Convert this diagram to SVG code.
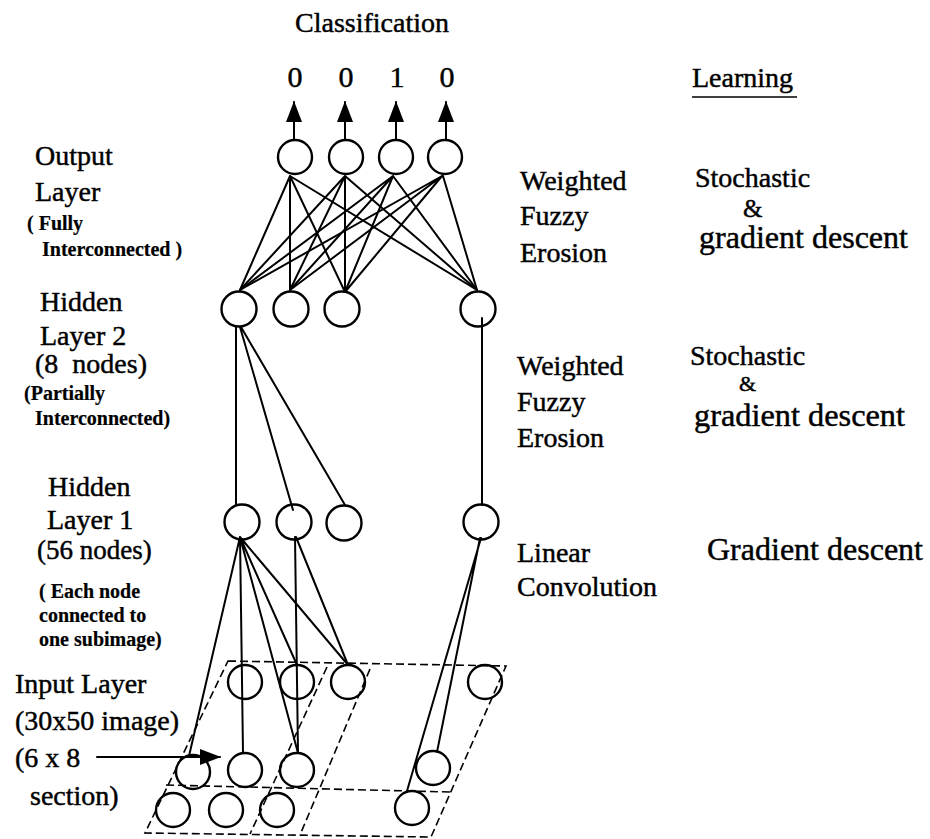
<svg xmlns="http://www.w3.org/2000/svg" width="930" height="839" viewBox="0 0 930 839">
  <defs>
    <style>
      .t { font-family: "Liberation Serif", "Times New Roman", serif; font-size: 28px; fill: #000; stroke: #000; stroke-width: 0.45; }
      .b { font-weight: bold; font-size: 20px; stroke-width: 0.2; }
      .mid { text-anchor: middle; }
      .node { fill: none; stroke: #000; stroke-width: 2.4; }
      .link { fill: none; stroke: #000; stroke-width: 2; stroke-linecap: round; }
      .grid { fill: none; stroke: #000; stroke-width: 1.6; stroke-dasharray: 8 4; }
    </style>
    <marker id="arrow" markerUnits="userSpaceOnUse" markerWidth="22" markerHeight="16" refX="20" refY="8" orient="auto">
      <path d="M0,0 L21,8 L0,16 Z" fill="#000"/>
    </marker>
  </defs>
  <rect width="930" height="839" fill="#fff"/>

  <!-- Titles and learning-rule column -->
  <g id="titles">
    <text class="t" x="295" y="32">Classification</text>
    <text class="t mid" x="295" y="87" style="font-size:30px">0</text>
    <text class="t mid" x="346" y="87" style="font-size:30px">0</text>
    <text class="t mid" x="397" y="87" style="font-size:30px">1</text>
    <text class="t mid" x="447" y="87" style="font-size:30px">0</text>
    <text class="t" x="692" y="87">Learning</text>
    <line x1="692" y1="97" x2="797" y2="97" stroke="#000" stroke-width="1.6"/>
  </g>

  <g id="rule-output">
    <text class="t" x="520" y="190">Weighted</text>
    <text class="t" x="520" y="225">Fuzzy</text>
    <text class="t" x="520" y="262">Erosion</text>
    <text class="t" x="695" y="187">Stochastic</text>
    <text class="t" x="743" y="217" style="font-size:25px">&amp;</text>
    <text class="t" x="699" y="248" style="font-size:31px" textLength="209" lengthAdjust="spacingAndGlyphs">gradient descent</text>
  </g>

  <g id="rule-hidden2">
    <text class="t" x="517" y="375">Weighted</text>
    <text class="t" x="517" y="411">Fuzzy</text>
    <text class="t" x="517" y="447">Erosion</text>
    <text class="t" x="690" y="365">Stochastic</text>
    <text class="t" x="739" y="391" style="font-size:22px">&amp;</text>
    <text class="t" x="694" y="426" style="font-size:31px" textLength="211" lengthAdjust="spacingAndGlyphs">gradient descent</text>
  </g>

  <g id="rule-hidden1">
    <text class="t" x="517" y="562">Linear</text>
    <text class="t" x="517" y="596">Convolution</text>
    <text class="t" x="707" y="560" style="font-size:31px" textLength="216" lengthAdjust="spacingAndGlyphs">Gradient descent</text>
  </g>

  <!-- Layer captions -->
  <g id="label-output">
    <text class="t" x="35" y="165">Output</text>
    <text class="t" x="35" y="201">Layer</text>
    <text class="t b" x="27" y="230">( Fully</text>
    <text class="t b" x="42" y="256">Interconnected )</text>
  </g>
  <g id="label-hidden2">
    <text class="t" x="40" y="311">Hidden</text>
    <text class="t" x="40" y="345">Layer 2</text>
    <text class="t" x="35" y="373" xml:space="preserve">(8  nodes)</text>
    <text class="t b" x="24" y="400">(Partially</text>
    <text class="t b" x="35" y="425">Interconnected)</text>
  </g>
  <g id="label-hidden1">
    <text class="t" x="48" y="496">Hidden</text>
    <text class="t" x="47" y="529">Layer 1</text>
    <text class="t" x="37" y="559" style="font-size:27px">(56 nodes)</text>
    <text class="t b" x="39" y="598">( Each node</text>
    <text class="t b" x="39" y="622">connected to</text>
    <text class="t b" x="39" y="646">one subimage)</text>
  </g>
  <g id="label-input">
    <text class="t" x="15" y="693">Input Layer</text>
    <text class="t" x="15" y="730">(30x50 image)</text>
    <text class="t" x="15" y="767">(6 x 8</text>
    <text class="t" x="30" y="805">section)</text>
  </g>

  <!-- Connectors -->
  <g id="connectors">
    <!-- class outputs -->
    <line class="link" x1="294" y1="139" x2="294" y2="102" marker-end="url(#arrow)"/>
    <line class="link" x1="345" y1="139" x2="345" y2="102" marker-end="url(#arrow)"/>
    <line class="link" x1="396" y1="139" x2="396" y2="102" marker-end="url(#arrow)"/>
    <line class="link" x1="446" y1="139" x2="446" y2="102" marker-end="url(#arrow)"/>

    <!-- output layer to hidden layer 2 (fully interconnected) -->
    <path class="link" d="M290,176 L240,290 M290,176 L290,290 M290,176 L345,292 M290,176 L477,290"/>
    <path class="link" d="M345,176 L240,290 M345,176 L290,290 M345,176 L345,292 M345,176 L477,290"/>
    <path class="link" d="M393,176 L240,290 M393,176 L290,290 M393,176 L345,292 M393,176 L477,290"/>
    <path class="link" d="M442,176 L240,290 M442,176 L290,290 M442,176 L345,292 M443,176 L477,290"/>

    <!-- hidden layer 2 to hidden layer 1 (partially interconnected) -->
    <path class="link" d="M236,326 L236,505 M240,327 L293,510 M241,327 L345,505 M482,318 L482,505"/>

    <!-- hidden layer 1 to input subimages -->
    <path class="link" d="M240,537 L189,756 M240,537 L243,753 M240,537 L298,753 M240,537 L297,665 M240,537 L348,665"/>
    <path class="link" d="M295,537 L298,753 M296,537 L348,665"/>
    <path class="link" d="M480,538 L437,752 M481,538 L407,791"/>

    <!-- section pointer -->
    <line class="link" x1="97" y1="757" x2="220" y2="757" marker-end="url(#arrow)"/>
  </g>

  <!-- Input image grid -->
  <g id="input-grid">
    <path class="grid" d="M228,661 L506,666 L431,837 L145,833 Z"/>
    <line class="grid" x1="166" y1="785" x2="450" y2="792"/>
    <line class="grid" x1="327" y1="667" x2="250" y2="834"/>
    <line class="grid" x1="370" y1="669" x2="300" y2="835"/>
  </g>

  <!-- Output layer -->
  <g id="output-layer">
    <circle class="node" cx="295" cy="157" r="17"/>
    <circle class="node" cx="346" cy="157" r="17"/>
    <circle class="node" cx="396" cy="157" r="17"/>
    <circle class="node" cx="445" cy="157" r="17"/>
  </g>

  <!-- Hidden layer 2 -->
  <g id="hidden-layer-2">
    <circle class="node" cx="239" cy="309" r="17.5"/>
    <circle class="node" cx="291" cy="309" r="17.5"/>
    <circle class="node" cx="342" cy="309" r="17.5"/>
    <circle class="node" cx="478" cy="309" r="17.5"/>
  </g>

  <!-- Hidden layer 1 -->
  <g id="hidden-layer-1">
    <circle class="node" cx="242" cy="522" r="17.5"/>
    <circle class="node" cx="294" cy="522" r="17.5"/>
    <circle class="node" cx="344" cy="523" r="17.5"/>
    <circle class="node" cx="481" cy="522" r="17.5"/>
  </g>

  <!-- Input layer -->
  <g id="input-layer">
    <circle class="node" cx="245" cy="682" r="17"/>
    <circle class="node" cx="297" cy="682" r="17"/>
    <circle class="node" cx="348" cy="682" r="17"/>
    <circle class="node" cx="485" cy="682" r="17"/>
    <circle class="node" cx="193" cy="772" r="17"/>
    <circle class="node" cx="245" cy="770" r="17"/>
    <circle class="node" cx="297" cy="770" r="17"/>
    <circle class="node" cx="433" cy="768" r="17"/>
    <circle class="node" cx="173" cy="810" r="17"/>
    <circle class="node" cx="226" cy="810" r="17"/>
    <circle class="node" cx="277" cy="810" r="17"/>
    <circle class="node" cx="412" cy="808" r="17"/>
  </g>
</svg>
